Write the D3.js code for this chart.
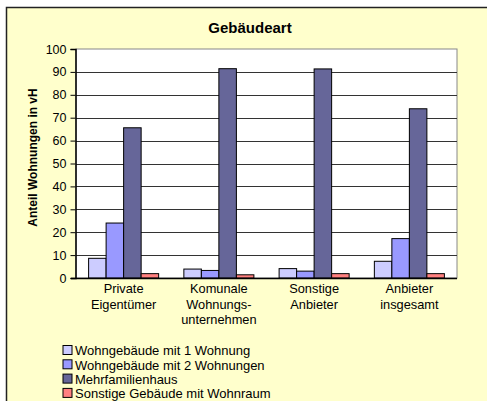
<!DOCTYPE html>
<html lang='de'>
  <head>
    <meta charset='utf-8'>
    <style type='text/css'>
      body { margin: 0; background-color: #fff; }
      svg { display: block; font-family: 'Liberation Sans', Arial, sans-serif; }
    </style>
  </head>
  <body>
    <div id='visualization'>
      <svg width='487' height='401'></svg>
    </div>

    <script src='https://d3js.org/d3.v7.min.js'></script>
    <script type='text/javascript'>
        // Data
        var categories = [
          ["Private", "Eigentümer"],
          ["Komunale", "Wohnungs-", "unternehmen"],
          ["Sonstige", "Anbieter"],
          ["Anbieter", "insgesamt"]
        ];
        var seriesNames = [
          "Wohngebäude mit 1 Wohnung",
          "Wohngebäude mit 2 Wohnungen",
          "Mehrfamilienhaus",
          "Sonstige Gebäude mit Wohnraum"
        ];
        var seriesColors = ["#ccccff", "#9999ff", "#666699", "#ff8080"];
        var einFamilie   = [8.6, 3.9, 4.1, 7.3];
        var zweiFamilie  = [24.0, 3.3, 3.0, 17.2];
        var mehrFamilie  = [65.6, 91.4, 91.3, 73.9];
        var sonstige     = [1.9, 1.4, 1.9, 1.9];
        var yTicks = [0, 10, 20, 30, 40, 50, 60, 70, 80, 90, 100];

        var series = [einFamilie, zweiFamilie, mehrFamilie, sonstige];

        var svg = d3.select("svg");

        // chart background box (right / bottom edges run off the picture)
        svg.append("rect")
            .attr("x", 6.5).attr("y", 7.5)
            .attr("width", 490).attr("height", 400)
            .attr("fill", "#ffffcc")
            .attr("stroke", "#222").attr("stroke-width", 1.5);

        var plot = {left: 76, right: 457, top: 49, bottom: 278};

        var x = d3.scaleBand()
            .domain(d3.range(categories.length))
            .range([plot.left, plot.right])
            .padding(0);

        var xs = d3.scaleBand()
            .domain(d3.range(series.length))
            .range([0, x.bandwidth()])
            .paddingInner(0)
            .paddingOuter(0.72);

        var y = d3.scaleLinear().domain([0, 100]).range([plot.bottom, plot.top]);

        // plot area
        svg.append("rect")
            .attr("x", plot.left).attr("y", plot.top)
            .attr("width", plot.right - plot.left)
            .attr("height", plot.bottom - plot.top)
            .attr("fill", "#fff")
            .attr("stroke", "#888");

        // gridlines
        svg.append("g")
            .selectAll("line")
            .data(yTicks.slice(1, -1))
            .enter().append("line")
            .attr("x1", plot.left).attr("x2", plot.right)
            .attr("y1", function(d) { return Math.round(y(d)) + 0.5; })
            .attr("y2", function(d) { return Math.round(y(d)) + 0.5; })
            .attr("stroke", "#333");

        // bars
        var groups = svg.append("g").selectAll("g")
            .data(series)
            .enter().append("g")
            .attr("fill", function(d, i) { return seriesColors[i]; });

        groups.each(function(vals, si) {
            d3.select(this).selectAll("rect")
              .data(vals)
              .enter().append("rect")
              .attr("x", function(d, ci) { return x(ci) + xs(si); })
              .attr("y", function(d) { return y(d); })
              .attr("width", xs.bandwidth())
              .attr("height", function(d) { return plot.bottom - y(d); })
              .attr("stroke", "#000")
              .attr("stroke-width", 1);
        });

        // y axis
        var yAxis = svg.append("g")
            .attr("transform", "translate(" + (plot.left - 0.5) + ",0)")
            .call(d3.axisLeft(y).tickValues(yTicks).tickSize(5).tickPadding(4));
        yAxis.select(".domain").attr("stroke", "#000").attr("stroke-width", 1.5);
        yAxis.selectAll(".tick line").attr("stroke", "#000");
        yAxis.selectAll("text")
            .attr("font-size", 12.5)
            .attr("font-family", "'Liberation Sans', Arial, sans-serif")
            .attr("fill", "#000");

        // x axis line
        svg.append("line")
            .attr("x1", plot.left - 5).attr("x2", plot.right)
            .attr("y1", plot.bottom + 0.5).attr("y2", plot.bottom + 0.5)
            .attr("stroke", "#000").attr("stroke-width", 1.5);

        // category labels
        svg.append("g").selectAll("text")
            .data(categories)
            .enter().append("text")
            .attr("text-anchor", "middle")
            .attr("font-size", 12.8)
            .attr("x", function(d, i) { return x(i) + x.bandwidth() / 2; })
            .attr("y", 293)
            .each(function(lines) {
                var t = d3.select(this);
                lines.forEach(function(l, k) {
                    t.append("tspan")
                      .attr("x", t.attr("x"))
                      .attr("dy", k === 0 ? 0 : 15.5)
                      .text(l);
                });
            });

        // title
        svg.append("text")
            .attr("x", 250).attr("y", 33)
            .attr("text-anchor", "middle")
            .attr("font-size", 15).attr("font-weight", "bold")
            .text("Gebäudeart");

        // y axis title
        svg.append("text")
            .attr("transform", "translate(37,157.5) rotate(-90)")
            .attr("text-anchor", "middle")
            .attr("font-size", 12).attr("font-weight", "bold")
            .text("Anteil Wohnungen in vH");

        // legend
        var legend = svg.append("g").selectAll("g")
            .data(seriesNames)
            .enter().append("g")
            .attr("transform", function(d, i) { return "translate(63," + (345.5 + i * 14.3) + ")"; });
        legend.append("rect")
            .attr("width", 9).attr("height", 9)
            .attr("fill", function(d, i) { return seriesColors[i]; })
            .attr("stroke", "#000");
        legend.append("text")
            .attr("x", 12).attr("y", 9.8)
            .attr("font-size", 13)
            .text(function(d) { return d; });
    </script>
  </body>
</html>
